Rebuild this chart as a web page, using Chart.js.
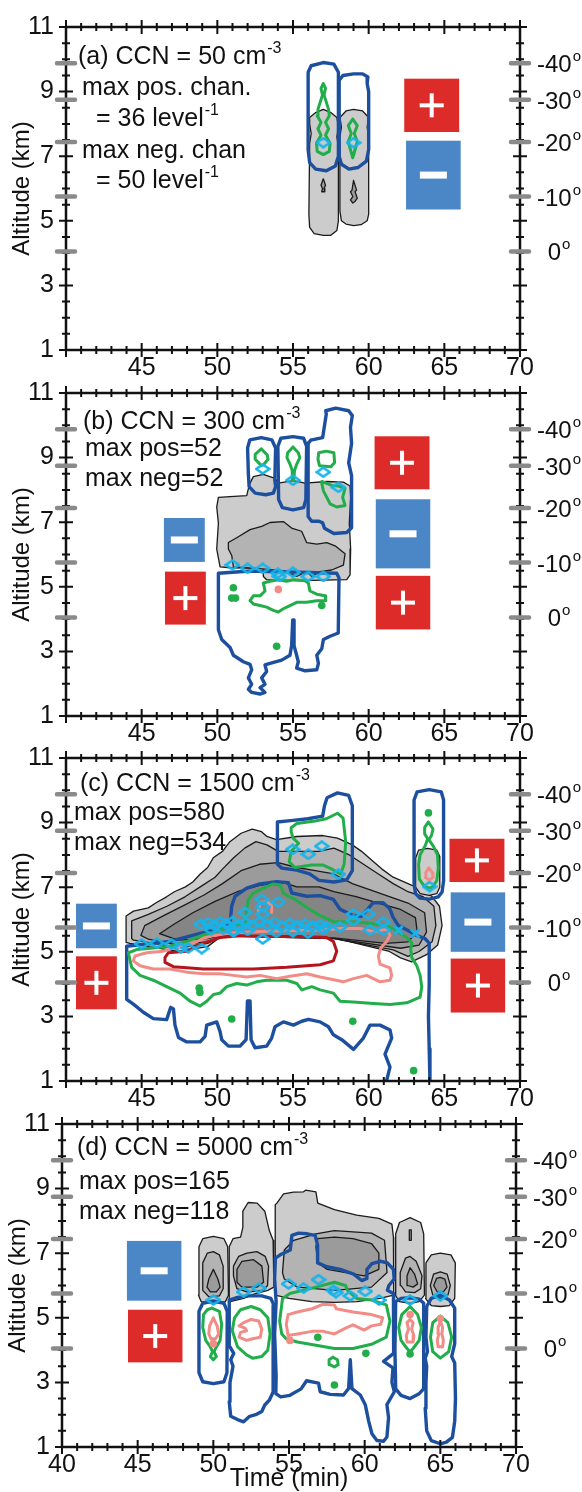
<!DOCTYPE html>
<html>
<head>
<meta charset="utf-8">
<title>Channel counts vs CCN</title>
<script src="https://cdn.jsdelivr.net/npm/chart.js@4.4.1/dist/chart.umd.min.js"></script>
<style>
  html, body { margin: 0; padding: 0; background: #fff; }
  body { position: relative; width: 582px; height: 1492px; overflow: hidden; }
  .panel { position: absolute; }
</style>
</head>
<body>
<div class="panel" style="top:0;left:0"><canvas id="pa" width="582" height="392"></canvas></div>
<div class="panel" style="top:366px;left:0"><canvas id="pb" width="582" height="392"></canvas></div>
<div class="panel" style="top:731px;left:0"><canvas id="pc" width="582" height="392"></canvas></div>
<div class="panel" style="top:1097px;left:-4px"><canvas id="pd" width="582" height="395"></canvas></div>
<script>
const FONT = "'Liberation Sans', Arial, sans-serif";
const BLUE = '#1d4f9f', GREEN = '#21ae4a', PINK = '#f28c86', DARKRED = '#b5141d', CYAN = '#17b3ea';
const G1 = '#cccccc', G2 = '#b3b3b3', G3 = '#9b9b9b', G4 = '#858585';
const BOX_RED = '#dc2b28', BOX_BLUE = '#4b87c7';

// axes
const xTickValues = [40, 45, 50, 55, 60, 65, 70];
const yTickValues = [1, 3, 5, 7, 9, 11];
const tempAlt = [9.88, 8.75, 7.44, 5.75, 4.05];
const tempLabels = ['-40', '-30', '-20', '-10', '0'];

// ---------- (a) CCN = 50 ----------  points are [time (min), altitude (km)]
const aGrayA = [[56.1,8.2],[56.5,8.35],[57.0,8.45],[57.5,8.35],[57.9,8.2],[58.0,7.9],[57.9,7.6],[58.0,7.3],[58.0,5.0],[57.9,4.7],[57.5,4.55],[57.0,4.55],[56.4,4.6],[56.1,4.8],[56.05,5.2],[56.1,7.4],[56.2,7.7],[56.1,8.0]];
const aGrayB = [[58.1,8.2],[58.5,8.4],[59.0,8.45],[59.6,8.4],[60.0,8.2],[59.9,7.9],[60.0,7.6],[60.0,5.2],[59.9,5.0],[59.5,4.88],[59.0,4.85],[58.5,4.9],[58.2,5.0],[58.1,5.3],[58.1,7.6],[58.2,7.9]];
const aDarkA = [[57.0,6.3],[57.15,6.1],[57.05,6.0],[57.1,5.9],[56.9,5.9],[56.95,6.0],[56.85,6.1]];
const aDarkB = [[59.0,6.25],[59.2,5.95],[59.1,5.9],[59.25,5.7],[59.1,5.6],[58.95,5.55],[58.8,5.65],[58.95,5.75],[58.8,5.9],[58.9,5.95]];
const aBlueA = [[56.0,9.6],[56.2,9.8],[57.0,9.9],[57.7,9.85],[58.0,9.6],[58.0,7.0],[57.8,6.7],[57.2,6.55],[56.5,6.6],[56.1,6.8],[56.0,7.2]];
const aBlueB = [[58.05,9.35],[58.3,9.5],[59.0,9.55],[59.6,9.55],[59.95,9.45],[59.9,9.25],[60.0,9.0],[60.0,7.2],[59.85,6.85],[59.3,6.65],[58.7,6.6],[58.2,6.75],[58.05,7.0]];
const aGreenA = [[57.0,9.25],[57.15,9.1],[57.05,8.9],[57.15,8.75],[57.35,8.45],[57.4,8.25],[57.15,8.05],[57.35,7.85],[57.15,7.65],[57.45,7.4],[57.4,7.15],[57.0,7.05],[56.6,7.15],[56.55,7.4],[56.85,7.65],[56.65,7.85],[56.85,8.05],[56.6,8.25],[56.65,8.45],[56.85,8.75],[56.95,8.9],[56.85,9.1]];
const aGreenB = [[58.95,8.15],[59.25,7.95],[59.05,7.7],[59.25,7.45],[59.1,7.2],[58.95,6.95],[58.8,7.2],[58.65,7.45],[58.85,7.7],[58.65,7.95]];
const aDiamonds = [[57.0,7.42],[59.0,7.42]];
const aBoxes = [[62.35,65.98,7.75,9.4,'+'],[62.47,66.08,5.35,7.48,'-']];
const aText = [['(a) CCN = 50 cm','-3',12,37],['max pos. chan.','',16,68],['= 36 level','-1',30,99],['max neg. chan','',16,131],['= 50 level','-1',30,161]];

// ---------- (b) CCN = 300 ----------
const bGray = [[50.07,7.77],[50.84,7.79],[51.94,7.82],[52.12,8.17],[52.38,8.41],[53.04,8.48],[53.81,8.36],[54.03,8.21],[55.02,8.29],[55.79,8.21],[57.23,8.26],[58.33,8.24],[58.77,8.12],[58.81,7.77],[58.72,6.97],[58.81,6.17],[58.77,5.37],[58.55,5.22],[55.46,5.19],[53.26,5.22],[53.04,5.32],[53.04,5.57],[50.84,5.59],[50.18,5.62],[49.96,6.17],[50.07,6.97],[49.96,7.47]];
const bDark = [[50.73,6.37],[51.28,6.52],[52.16,6.77],[52.93,6.87],[53.48,6.99],[54.36,7.02],[54.91,6.82],[55.57,6.72],[55.9,6.37],[56.57,6.32],[57.23,6.37],[57.78,6.27],[58.44,6.02],[58.33,5.67],[57.56,5.52],[56.79,5.47],[56.24,5.32],[55.9,5.47],[55.24,5.32],[54.36,5.49],[52.6,5.57],[51.06,5.62],[50.95,5.97],[50.73,6.17]];
const bBlue1 = [[52.0,9.3],[52.15,9.55],[52.9,9.62],[53.6,9.55],[53.85,9.3],[53.8,8.3],[53.85,8.1],[53.7,7.9],[53.2,7.85],[52.5,7.9],[52.1,8.1],[52.05,8.5]];
const bBlue2 = [[54.0,9.35],[54.2,9.6],[55.0,9.65],[55.7,9.6],[55.9,9.35],[55.85,7.7],[55.7,7.45],[55.0,7.38],[54.3,7.45],[54.05,7.7]];
const bBlue3 = [[56.18,9.54],[56.96,9.62],[57.2,10.35],[57.16,10.45],[57.82,10.53],[58.68,10.45],[58.92,10.3],[58.8,9.94],[58.87,9.44],[58.68,8.84],[58.87,8.44],[58.87,6.83],[58.55,6.68],[57.7,6.65],[57.08,6.81],[56.96,6.98],[56.72,7.03],[56.23,7.03],[56.0,7.18],[56.0,9.44]];
const bBlue4 = [[50.07,5.42],[52.16,5.49],[57.89,5.42],[58.04,5.27],[57.99,3.57],[57.45,3.47],[57.01,3.37],[56.9,3.08],[56.57,2.88],[56.68,2.63],[56.57,2.43],[55.8,2.4],[55.24,2.48],[55.35,2.68],[55.24,2.88],[55.07,3.18],[55.07,3.97],[54.98,3.97],[54.91,3.18],[54.8,2.88],[54.25,2.73],[53.48,2.63],[53.15,2.58],[53.26,2.38],[52.93,2.18],[53.15,1.98],[52.82,1.88],[53.15,1.73],[52.82,1.68],[52.27,1.73],[52.05,1.83],[52.27,1.98],[52.05,2.18],[52.27,2.43],[52.16,2.6],[51.72,2.68],[51.06,2.88],[50.84,3.12],[50.29,3.37],[50.07,3.67]];
const bGreen1 = [[52.9,9.27],[53.3,9.08],[53.35,8.95],[53.05,8.78],[52.9,8.76],[52.5,8.95],[52.5,9.1]];
const bGreen2 = [[55.0,9.33],[55.35,9.15],[55.45,9.0],[55.25,8.8],[55.1,8.6],[55.05,8.3],[54.95,8.3],[54.95,8.6],[54.8,8.8],[54.6,9.0],[54.65,9.15]];
const bGreen3 = [[56.7,9.15],[57.2,9.2],[57.7,9.15],[57.75,8.85],[57.5,8.72],[56.75,8.75],[56.65,8.95]];
const bGreen4 = [[56.9,8.26],[57.56,8.14],[57.99,8.12],[58.44,8.05],[58.28,7.77],[58.44,7.52],[57.89,7.47],[57.45,7.57],[57.23,7.77],[57.01,7.97],[56.9,8.21]];
const bGreen5 = [[53.04,5.12],[53.48,5.17],[54.03,5.22],[54.58,5.17],[55.02,5.22],[55.79,5.19],[56.01,5.12],[56.12,4.87],[56.57,4.77],[57.12,4.72],[57.16,4.57],[56.57,4.57],[55.9,4.52],[55.24,4.52],[54.8,4.42],[54.36,4.32],[54.03,4.22],[53.7,4.27],[53.26,4.37],[52.82,4.42],[52.38,4.47],[52.16,4.57],[52.38,4.72],[52.82,4.72],[53.15,4.87]];
const bGreenDots = [[51.06,4.97],[50.95,4.65],[51.2,4.65],[56.9,4.42],[53.92,3.16]];
const bPinkDots = [[54.03,4.92]];
const bDiamonds = [[51.0,5.68],[52.0,5.57],[53.0,5.57],[54.0,5.42],[54.1,5.32],[55.0,5.45],[56.0,5.32],[57.0,5.32],[53.0,8.65],[55.0,8.3],[57.0,8.55],[58.0,8.08]];
const bBoxes = [[46.47,49.17,5.77,7.13,'-'],[46.54,49.24,3.83,5.47,'+'],[60.39,64.02,8.02,9.66,'+'],[60.47,64.07,5.57,7.71,'-'],[60.47,64.07,3.68,5.34,'+']];
const bText = [['(b) CCN = 300 cm','-3',17,36],['max pos=52','',19,63],['max neg=52','',19,93]];

// ---------- (c) CCN = 1500 ----------
const cGray1 = [[43.97,5.29],[43.97,6.11],[44.46,6.26],[45.44,6.36],[45.93,6.51],[46.67,6.71],[47.16,6.86],[47.89,7.01],[48.38,7.16],[48.87,7.41],[49.36,7.61],[49.73,7.91],[50.34,8.11],[50.83,8.41],[51.57,8.67],[52.3,8.8],[52.92,8.72],[53.28,8.57],[53.9,8.47],[55.25,8.57],[56.96,8.6],[57.94,8.52],[58.92,8.31],[59.53,8.11],[60.15,7.86],[60.88,7.56],[61.62,7.31],[62.6,7.11],[63.33,6.96],[64.19,6.71],[64.68,6.41],[64.85,5.81],[64.56,5.21],[63.82,4.91],[62.84,4.69],[62.11,4.81],[61.37,5.01],[57.7,5.43],[50.34,5.51],[49.36,5.16],[47.4,5.01],[45.44,5.16],[44.22,5.26]];
const cGray2 = [[44.34,5.41],[44.34,5.96],[45.44,6.16],[46.67,6.41],[47.89,6.71],[48.87,7.01],[49.85,7.31],[50.34,7.56],[51.08,7.91],[51.81,8.21],[52.55,8.41],[53.28,8.31],[54.02,8.11],[55.25,8.11],[56.72,8.11],[57.7,8.21],[58.68,8.01],[59.66,7.71],[60.64,7.41],[61.62,7.11],[62.6,6.86],[63.58,6.71],[64.31,6.41],[64.44,5.81],[64.19,5.31],[63.33,5.01],[62.6,4.86],[61.62,5.06],[57.7,5.41],[50.34,5.49],[49.36,5.26],[47.4,5.13],[45.44,5.29],[44.46,5.36]];
const cGray3 = [[44.95,5.51],[45.2,5.81],[46.42,6.11],[47.89,6.46],[49.12,6.76],[50.34,7.11],[51.57,7.51],[52.79,7.71],[54.02,7.76],[55.25,7.61],[56.47,7.51],[57.7,7.41],[58.92,7.11],[60.15,6.91],[61.37,6.71],[62.6,6.51],[63.7,6.21],[63.82,5.61],[63.33,5.21],[62.11,5.11],[57.7,5.41],[50.34,5.49],[49.36,5.31],[47.4,5.21],[45.44,5.39]];
const cGray4 = [[46.18,5.56],[47.16,5.86],[48.38,6.21],[49.85,6.56],[51.32,6.86],[52.79,7.06],[54.26,7.16],[55.25,7.01],[56.72,7.01],[57.7,6.86],[59.17,6.71],[60.64,6.51],[62.11,6.31],[63.09,6.06],[63.21,5.61],[62.6,5.31],[61.13,5.26],[57.7,5.43],[50.34,5.51],[49.36,5.41],[47.4,5.36]];
const cGrayCol = [[63.1,7.9],[63.3,8.15],[63.9,8.2],[64.5,8.15],[64.7,7.95],[64.7,7.0],[64.5,6.8],[64.0,6.75],[63.4,6.8],[63.1,7.0]];
const cBlueBox = [[53.97,9.02],[55.0,9.07],[55.98,9.12],[56.96,9.2],[57.08,9.52],[57.25,9.77],[57.94,9.92],[58.68,9.84],[58.92,9.52],[58.92,7.51],[58.55,7.23],[57.7,7.16],[56.72,7.21],[56.1,7.41],[55.25,7.53],[54.26,7.59],[53.97,7.71]];
const cBlueCol = [[63.0,9.7],[63.2,9.95],[64.0,10.02],[64.8,9.95],[64.95,9.7],[64.95,7.2],[64.85,6.85],[64.6,6.7],[64.0,6.63],[63.4,6.66],[63.1,6.8],[63.0,7.1]];
const cBlueMain = [[44.01,5.17],[44.89,5.22],[46.87,5.32],[48.86,5.57],[50.18,5.72],[50.84,5.87],[50.95,6.42],[51.17,6.72],[51.94,6.97],[52.82,7.1],[53.92,7.17],[54.7,7.14],[54.92,6.82],[55.91,6.72],[56.79,6.74],[57.67,6.62],[58.11,6.32],[58.99,6.12],[59.5,6.1],[59.9,6.3],[60.3,6.52],[60.95,6.52],[61.4,6.33],[61.6,6.08],[61.95,5.82],[62.5,5.68],[63.2,5.5],[63.7,5.42],[64.0,5.27],[64.0,4.0],[63.95,3.0],[64.0,2.0],[64.05,0.95],[61.15,0.95],[61.41,1.43],[61.08,1.83],[61.52,2.33],[61.41,2.58],[60.75,2.73],[60.09,2.73],[59.65,2.33],[59.0,1.98],[58.22,2.28],[57.67,2.43],[57.34,2.68],[56.79,2.83],[56.02,2.91],[55.58,2.85],[55.03,2.73],[54.37,2.83],[53.81,2.68],[53.59,2.33],[53.26,2.08],[52.49,2.03],[52.23,2.28],[52.16,3.48],[51.99,3.48],[51.9,2.28],[51.5,2.08],[50.73,2.08],[50.29,2.28],[50.18,2.53],[49.96,2.83],[49.3,2.73],[49.19,2.38],[48.86,2.21],[47.98,2.21],[47.43,2.35],[47.2,2.73],[47.1,3.23],[46.92,3.28],[46.65,2.9],[45.77,2.93],[45.11,3.13],[44.45,3.38],[44.01,3.53]];
const cGreenBox = [[54.88,8.84],[55.25,8.97],[56.47,9.05],[57.2,9.12],[57.94,9.29],[58.31,9.14],[58.48,8.41],[58.38,7.71],[58.14,7.41],[57.57,7.56],[56.96,7.69],[56.23,7.69],[55.12,7.61],[54.75,7.79],[54.88,8.11],[55.37,8.36],[55.0,8.52],[54.88,8.72]];
const cGreenCol = [[63.95,9.02],[64.25,8.8],[64.15,8.6],[63.98,8.47],[64.3,8.25],[64.55,8.0],[64.6,7.6],[64.5,7.2],[64.2,7.0],[63.95,6.97],[63.65,7.05],[63.35,7.25],[63.3,7.7],[63.4,8.0],[63.75,8.3],[63.9,8.5],[63.7,8.65],[63.7,8.85]];
const cGreenMain = [[44.12,4.97],[44.67,5.07],[45.77,5.12],[46.87,5.17],[47.98,5.32],[49.08,5.52],[50.18,5.67],[50.95,5.82],[51.83,5.87],[51.94,6.32],[52.05,6.62],[52.38,6.82],[53.04,6.97],[53.7,7.1],[54.15,7.07],[54.37,6.82],[54.7,6.72],[55.14,6.62],[55.91,6.37],[56.79,6.12],[57.67,5.94],[58.55,5.92],[59.21,5.92],[60.31,5.87],[60.97,5.82],[61.63,5.72],[62.08,5.57],[62.52,5.44],[62.85,5.27],[62.78,5.07],[62.85,4.82],[63.18,4.57],[63.4,4.27],[63.51,3.92],[63.4,3.6],[62.52,3.42],[61.41,3.37],[60.31,3.4],[59.21,3.44],[58.11,3.47],[57.67,3.72],[56.79,3.82],[56.24,3.92],[55.58,3.82],[55.25,4.02],[54.59,4.12],[53.92,4.12],[53.26,4.12],[52.6,4.07],[51.94,3.97],[51.28,4.02],[50.62,3.92],[50.18,3.72],[49.74,3.68],[49.3,3.47],[48.86,3.32],[48.2,3.47],[47.54,3.72],[46.65,3.92],[45.77,4.12],[44.89,4.27],[44.34,4.52]];
const cGreenDots = [[48.8,3.88],[48.85,3.74],[50.95,2.92],[58.95,2.85],[62.97,1.32],[63.95,9.3]];
const cPink = [[44.56,4.87],[45.33,4.97],[46.43,5.02],[47.54,5.17],[48.42,5.27],[49.08,5.42],[49.74,5.5],[51.0,5.58],[52.5,5.62],[54.0,5.65],[55.5,5.66],[57.0,5.68],[58.2,5.72],[59.43,5.72],[60.31,5.62],[61.19,5.7],[61.41,5.52],[61.19,5.32],[60.8,5.12],[60.64,4.87],[60.75,4.62],[61.41,4.5],[61.52,4.27],[61.41,4.12],[60.75,4.07],[59.87,4.27],[58.99,4.17],[58.33,4.07],[56.79,4.22],[55.91,4.32],[54.8,4.24],[53.92,4.17],[52.82,4.27],[51.94,4.22],[51.06,4.27],[50.18,4.32],[49.08,4.32],[47.98,4.37],[46.87,4.47],[45.77,4.47],[44.89,4.57],[44.45,4.72]];
const cPinkLoop = [[52.7,6.22],[52.82,6.52],[53.26,6.57],[53.59,6.42],[53.59,6.22]];
const cPinkCol = [[63.98,7.6],[64.2,7.45],[64.25,7.3],[64.0,7.22],[63.75,7.3],[63.78,7.45]];
const cRed = [[46.54,4.82],[46.76,4.97],[47.98,5.02],[49.08,5.27],[50.18,5.44],[51.5,5.5],[53.48,5.47],[55.69,5.47],[57.23,5.44],[57.67,5.32],[57.89,5.02],[57.67,4.72],[56.79,4.6],[54.59,4.52],[52.38,4.47],[50.18,4.47],[49.08,4.47],[47.1,4.54],[46.54,4.67]];
const cDiamonds = [[54.98,8.17],[56.02,8.02],[56.9,8.27],[58.0,7.4],[64.02,7.02],
  [45.0,5.24],[46.0,5.27],[46.98,5.24],[47.6,5.12],[48.09,5.12],[48.97,5.1],
  [48.9,5.85],[49.4,5.9],[49.8,5.82],[50.2,5.92],[50.6,5.86],[51.0,5.94],[51.4,5.84],[51.9,5.9],[52.3,5.82],[52.8,5.92],[53.3,5.84],[53.8,5.9],[54.3,5.8],[54.8,5.88],[55.3,5.82],[55.8,5.86],[56.3,5.8],[56.8,5.84],[57.2,5.78],
  [49.6,5.68],[50.4,5.7],[51.1,5.64],[52.0,5.66],[53.9,5.6],[55.0,5.62],[56.0,5.58],[57.0,5.7],[58.1,5.77],
  [51.83,6.22],[53.0,6.17],[52.95,6.62],[54.03,6.54],[53.0,6.4],[53.0,5.4],[51.06,5.62],
  [58.99,5.97],[58.99,6.17],[59.98,6.17],[60.97,5.92],[60.09,5.67],[60.97,5.67]];
const cCrosses = [[61.97,5.67],[63.07,5.57]];
const cBoxes = [[40.66,43.36,5.11,6.49,'-'],[40.66,43.36,3.22,4.86,'+'],[65.34,68.97,7.16,8.5,'+'],[65.42,69.02,5.0,6.84,'-'],[65.42,69.02,3.12,4.79,'+']];
const cText = [['(c) CCN = 1500 cm','-3',14,33],['max pos=580','',8,62],['max neg=534','',8,92]];

// ---------- (d) CCN = 5000 ----------
const dGrayA1 = [[49.05,7.2],[49.3,7.45],[50.0,7.52],[50.7,7.45],[50.95,7.2],[51.0,5.7],[50.8,5.5],[50.0,5.45],[49.2,5.5],[49.02,5.7]];
const dGrayA2 = [[49.3,6.7],[49.6,7.0],[50.0,7.05],[50.4,6.95],[50.65,6.6],[50.65,5.9],[50.4,5.68],[49.7,5.65],[49.3,5.85]];
const dGrayA3 = [[50.0,6.5],[50.3,6.2],[50.45,5.95],[50.2,5.8],[49.8,5.8],[49.58,5.95],[49.7,6.2]];
const dGrayB1 = [[51.1,5.5],[51.05,7.2],[51.3,7.45],[51.8,7.5],[51.95,7.8],[51.95,8.3],[52.3,8.57],[52.9,8.55],[53.4,8.3],[53.55,8.0],[53.7,7.7],[53.95,7.4],[54.0,5.95],[53.6,5.85],[52.8,5.75],[52.0,5.6]];
const dGrayB2 = [[51.33,6.6],[51.67,6.9],[52.22,7.0],[52.88,7.05],[53.43,6.9],[53.65,6.6],[53.58,6.0],[53.32,5.85],[52.22,5.8],[51.56,5.9],[51.33,6.3]];
const dGrayB3 = [[51.56,6.5],[51.89,6.75],[52.66,6.8],[53.21,6.6],[53.32,6.1],[52.88,5.95],[51.89,5.95],[51.56,6.1]];
const dGrayC1 = [[54.1,5.7],[54.09,8.5],[54.2,8.55],[54.64,8.84],[55.3,8.89],[55.96,8.9],[56.1,8.95],[56.78,8.9],[56.9,8.55],[58.0,8.35],[59.47,8.18],[60.94,8.08],[61.8,7.9],[61.9,7.5],[61.92,5.7],[61.0,5.6],[59.5,5.5],[58.0,5.48],[56.5,5.5],[55.0,5.6]];
const dGrayC2 = [[54.57,6.4],[54.69,7.1],[55.31,7.4],[56.78,7.6],[58.0,7.7],[60.45,7.62],[61.31,7.4],[61.48,6.4],[60.45,5.95],[58.0,5.85],[55.55,5.95],[54.69,6.2]];
const dGrayC3 = [[56.78,7.2],[56.9,7.45],[58.0,7.5],[59.23,7.45],[60.45,7.3],[60.94,7.0],[60.94,6.5],[59.96,6.3],[58.75,6.4],[57.53,6.5],[56.9,6.7]];
const dGrayD1 = [[62.05,7.6],[62.3,7.95],[63.0,8.1],[63.7,7.95],[63.9,7.6],[63.95,5.7],[63.6,5.5],[63.0,5.45],[62.3,5.5],[62.02,5.7]];
const dGrayD2 = [[62.35,6.4],[62.7,6.85],[63.0,6.9],[63.4,6.75],[63.79,6.3],[63.7,5.9],[63.3,5.78],[62.7,5.8],[62.4,6.0]];
const dGrayD3 = [[62.8,6.3],[63.0,6.55],[63.3,6.35],[63.5,6.05],[63.2,5.95],[62.85,6.0]];
const dGrayDBar = [[62.95,7.72],[63.08,7.72],[63.08,7.4],[62.95,7.4]];
const dGrayE1 = [[64.05,6.7],[64.4,6.95],[65.0,7.0],[65.7,6.95],[65.99,6.7],[65.95,5.6],[65.6,5.38],[65.0,5.35],[64.4,5.38],[64.02,5.6]];
const dGrayE2 = [[64.34,6.0],[64.55,6.35],[65.0,6.42],[65.45,6.35],[65.66,6.0],[65.5,5.7],[65.0,5.6],[64.5,5.7]];
const dGrayE3 = [[64.56,6.0],[64.75,6.22],[65.0,6.25],[65.3,6.2],[65.44,5.95],[65.2,5.8],[64.8,5.8]];
const dBlueA = [[49.05,5.2],[49.3,5.45],[50.0,5.52],[50.7,5.45],[50.92,5.2],[50.9,3.3],[50.7,3.02],[50.0,2.96],[49.3,3.02],[49.05,3.3]];
const dBlueB = [[51.05,5.55],[51.5,5.62],[52.3,5.68],[53.2,5.68],[53.8,5.6],[54.0,5.4],[53.95,4.0],[53.95,2.7],[53.7,2.45],[53.4,2.3],[53.2,2.1],[52.8,2.0],[52.4,1.95],[52.0,1.78],[51.6,1.85],[51.15,1.95],[51.05,2.4],[51.1,3.0],[51.2,3.25],[51.3,3.5],[51.15,3.7],[51.35,3.9],[51.1,4.1],[51.05,4.5]];
const dBlueC = [[54.1,6.85],[54.42,6.95],[55.08,7.1],[55.19,7.55],[55.63,7.62],[56.2,7.6],[56.73,7.55],[56.89,7.25],[56.89,6.7],[57.5,6.58],[58.39,6.5],[59.27,6.35],[59.82,6.15],[60.15,6.22],[60.15,6.5],[60.48,6.68],[61.03,6.75],[61.5,6.7],[61.9,6.5],[61.95,6.2],[61.6,6.0],[61.5,5.85],[61.9,5.75],[61.92,4.5],[61.91,3.9],[61.25,3.65],[61.87,3.45],[61.8,3.0],[61.96,2.71],[61.47,2.31],[61.58,1.91],[61.47,1.31],[61.25,1.18],[60.81,1.2],[60.48,1.41],[60.26,1.81],[60.04,2.31],[59.71,2.61],[59.16,2.81],[59.05,3.7],[58.94,2.81],[58.6,2.61],[57.72,2.63],[57.06,2.71],[56.95,2.98],[56.16,3.05],[55.8,2.8],[55.06,2.6],[54.45,2.55],[54.13,2.65],[54.15,3.2],[54.05,4.5],[54.15,5.5],[54.05,6.2]];
const dBlueD = [[62.05,5.5],[62.4,5.6],[63.0,5.62],[63.6,5.58],[63.9,5.45],[63.92,4.5],[63.9,3.5],[63.88,2.8],[63.6,2.65],[63.0,2.5],[62.4,2.6],[62.05,2.8],[62.0,4.0]];
const dBlueE = [[64.1,5.35],[64.4,5.6],[65.0,5.7],[65.6,5.55],[65.95,5.3],[65.95,4.2],[65.75,3.8],[65.95,3.6],[66.0,2.5],[65.95,1.8],[65.8,1.3],[65.4,1.15],[65.0,1.1],[64.4,1.2],[64.1,1.5],[64.0,2.2],[64.05,3.0],[64.1,3.5],[64.0,3.75],[64.15,3.95],[64.05,4.4]];
const dGreenA = [[49.9,5.3],[50.4,5.2],[50.55,4.8],[50.45,4.3],[50.2,4.1],[50.05,3.95],[50.2,3.8],[50.0,3.7],[49.8,3.8],[49.95,3.95],[49.8,4.1],[49.5,4.3],[49.3,4.7],[49.35,5.1],[49.6,5.25]];
const dGreenB = [[51.8,5.25],[52.5,5.35],[53.1,5.25],[53.6,5.0],[53.75,4.5],[53.6,4.0],[53.2,3.8],[52.6,3.75],[52.2,3.85],[51.6,4.1],[51.25,4.6],[51.4,5.0]];
const dGreenC = [[54.57,5.6],[55.06,5.75],[56.78,5.95],[58.0,6.1],[58.74,6.0],[58.86,5.85],[59.47,5.6],[60.45,5.55],[61.43,5.4],[61.67,4.9],[61.43,4.4],[60.45,4.18],[59.23,4.05],[58.0,4.05],[56.78,4.15],[55.55,4.25],[54.82,4.35],[54.52,4.5],[54.38,4.9],[54.52,5.4]];
const dGreenD = [[63.0,5.35],[63.5,5.1],[63.75,4.7],[63.6,4.3],[63.2,4.05],[63.0,3.95],[62.8,4.05],[62.4,4.3],[62.25,4.7],[62.45,5.1]];
const dGreenE = [[65.0,5.05],[65.5,4.85],[65.75,4.4],[65.55,3.95],[65.0,3.75],[64.5,3.95],[64.35,4.4],[64.5,4.85]];
const dGreenLoop = [[57.9,3.78],[58.2,3.7],[58.25,3.55],[58.0,3.48],[57.7,3.55],[57.65,3.7]];
const dGreenDots = [[56.9,4.4],[60.08,3.9],[58.0,2.92],[63.0,3.88]];
const dPinkA = [[50.0,5.0],[50.25,4.75],[50.35,4.5],[50.15,4.35],[49.85,4.35],[49.7,4.5],[49.75,4.75]];
const dPinkB = [[51.7,4.75],[52.0,4.85],[52.5,4.95],[53.0,4.9],[53.2,4.65],[53.1,4.4],[52.6,4.35],[52.2,4.3],[51.7,4.4],[51.8,4.55],[52.2,4.6],[52.1,4.68]];
const dPinkC = [[54.94,5.1],[55.55,5.18],[56.53,5.28],[57.27,5.42],[58.0,5.4],[58.12,5.28],[59.23,5.18],[60.45,5.1],[61.19,5.0],[61.06,4.8],[60.45,4.75],[59.96,4.62],[59.23,4.78],[58.74,4.68],[58.0,4.5],[57.27,4.58],[56.53,4.58],[55.55,4.5],[54.94,4.45],[54.82,4.8]];
const dPinkD = [[63.0,4.95],[63.2,4.85],[63.1,4.65],[63.25,4.45],[63.2,4.25],[62.8,4.25],[62.75,4.45],[62.9,4.65],[62.8,4.85]];
const dPinkE = [[65.0,4.9],[65.15,4.7],[65.1,4.5],[65.2,4.3],[65.15,4.1],[64.85,4.1],[64.8,4.3],[64.9,4.5],[64.85,4.7]];
const dPinkDots = [[50.0,4.2],[55.06,4.3],[63.0,5.1],[65.0,4.98]];
const dDiamonds = [[50.0,5.55],[52.0,5.8],[53.0,5.92],[54.97,6.05],[55.96,5.92],[56.95,6.18],[57.94,5.85],[58.1,5.78],[59.05,5.68],[60.04,5.82],[60.95,5.55],[63.0,5.55],[65.0,5.68]];
const dBoxes = [[44.29,47.89,5.53,7.38,'-'],[44.36,47.96,3.62,5.25,'+']];
const dText = [['(d) CCN = 5000 cm','-3',15,31],['max pos=165','',17,65],['max neg=118','',17,95]];

// ---------- helpers ----------
function poly(pts, color, width, fillColor, order, open) {
  const data = pts.map(p => ({x: p[0], y: p[1]}));
  if (!open) data.push({x: pts[0][0], y: pts[0][1]});
  return {
    data, showLine: true, tension: 0,
    borderColor: color, borderWidth: width, borderJoinStyle: 'round', borderCapStyle: 'round',
    backgroundColor: fillColor || 'transparent',
    fill: fillColor ? 'shape' : false,
    pointRadius: 0, order
  };
}

function dots(pts, color, r, order) {
  return {data: pts.map(p => ({x: p[0], y: p[1]})), showLine: false,
    pointRadius: r, pointBackgroundColor: color, pointBorderWidth: 0, order};
}

function diamondImage() {
  const c = document.createElement('canvas');
  c.width = 16; c.height = 12;
  const g = c.getContext('2d');
  g.strokeStyle = CYAN; g.lineWidth = 2.6;
  g.beginPath(); g.moveTo(8, 1.5); g.lineTo(14.5, 6); g.lineTo(8, 10.5); g.lineTo(1.5, 6); g.closePath();
  g.stroke();
  return c;
}
const DIAMOND = diamondImage();

function marks(pts, order) {
  return {data: pts.map(p => ({x: p[0], y: p[1]})), showLine: false,
    pointStyle: DIAMOND, pointRadius: 6, order};
}

function crosses(pts, order) {
  return {data: pts.map(p => ({x: p[0], y: p[1]})), showLine: false,
    pointStyle: 'crossRot', pointRadius: 6, pointBorderColor: CYAN, pointBorderWidth: 2.8, order};
}

function drawLabel(ctx, x, y, main, sup) {
  ctx.font = '25px ' + FONT;
  ctx.fillText(main, x, y);
  if (sup) {
    const w = ctx.measureText(main).width;
    ctx.font = '16px ' + FONT;
    ctx.fillText(sup, x + w + 1, y - 11);
  }
}

function makeDecor(p) {
  return {
    id: 'decor',
    afterDraw(chart) {
      const {ctx, chartArea: ca} = chart;
      const xs = chart.scales.x, ys = chart.scales.y;
      ctx.save();
      // charge sign boxes
      p.boxes.forEach(([t0, t1, a0, a1, s]) => {
        const x0 = xs.getPixelForValue(t0), x1 = xs.getPixelForValue(t1);
        const y0 = ys.getPixelForValue(a1), y1 = ys.getPixelForValue(a0);
        ctx.fillStyle = s === '+' ? BOX_RED : BOX_BLUE;
        ctx.fillRect(x0, y0, x1 - x0, y1 - y0);
        const cx = (x0 + x1) / 2, cy = (y0 + y1) / 2;
        ctx.fillStyle = '#fff';
        if (s === '+') {
          ctx.fillRect(cx - 12, cy - 2, 24, 4);
          ctx.fillRect(cx - 2, cy - 12, 4, 24);
        } else {
          ctx.fillRect(cx - 13.5, cy - 3.5, 27, 7);
        }
      });
      // frame
      ctx.strokeStyle = '#111';
      ctx.lineWidth = 2.5;
      ctx.strokeRect(ca.left, ca.top, ca.width, ca.height);
      // crossing tick marks on all four sides
      ctx.lineWidth = 2;
      ctx.beginPath();
      for (let t = 40; t <= 70; t++) {
        const px = xs.getPixelForValue(t);
        const len = t % 5 === 0 ? 7 : 4;
        ctx.moveTo(px, ca.bottom - len); ctx.lineTo(px, ca.bottom + len);
        ctx.moveTo(px, ca.top - len); ctx.lineTo(px, ca.top + len);
      }
      for (let a = 1; a <= 11; a += 0.5) {
        const py = ys.getPixelForValue(a);
        const len = yTickValues.includes(a) ? 7 : 4;
        ctx.moveTo(ca.left - len, py); ctx.lineTo(ca.left + len, py);
        ctx.moveTo(ca.right - len, py); ctx.lineTo(ca.right + len, py);
      }
      ctx.stroke();
      // temperature levels: gray dashes + labels at right
      ctx.strokeStyle = '#8a8a8a';
      ctx.lineWidth = 4.5;
      ctx.lineCap = 'round';
      ctx.fillStyle = '#111';
      ctx.textBaseline = 'alphabetic';
      tempAlt.forEach((a, i) => {
        const py = ys.getPixelForValue(a);
        ctx.beginPath();
        ctx.moveTo(ca.left - 9, py); ctx.lineTo(ca.left + 9, py);
        ctx.moveTo(ca.right - 9, py); ctx.lineTo(ca.right + 9, py);
        ctx.stroke();
        ctx.font = '24px ' + FONT;
        const w1 = ctx.measureText(tempLabels[i]).width;
        ctx.font = '15px ' + FONT;
        const w2 = ctx.measureText('o').width;
        const x0 = ca.right + 39 - (w1 + w2 + 1) / 2;
        ctx.font = '24px ' + FONT;
        ctx.fillText(tempLabels[i], x0, py + 9);
        ctx.font = '15px ' + FONT;
        ctx.fillText('o', x0 + w1 + 1, py - 2);
      });
      // panel annotations
      p.text.forEach(([main, sup, dx, dy]) => drawLabel(ctx, ca.left + dx, ca.top + dy, main, sup));
      ctx.restore();
    }
  };
}

function buildPanel(p) {
  const datasets = [];
  p.grays.forEach(([pts, col], i) => datasets.push(poly(pts, '#1b1b1b', 1.3, col, 30 - i)));
  p.lines.forEach(([pts, col, open], i) => datasets.push(poly(pts, col, col === BLUE ? 3.4 : 3, null, 15 - i * 0.1, open)));
  if (p.greenDots) datasets.push(dots(p.greenDots, GREEN, 3.8, 4));
  if (p.pinkDots) datasets.push(dots(p.pinkDots, PINK, 3.8, 4));
  datasets.push(marks(p.diamonds, 2));
  if (p.crosses) datasets.push(crosses(p.crosses, 2));

  new Chart(document.getElementById(p.id), {
    type: 'scatter',
    data: {datasets},
    options: {
      responsive: false,
      animation: false,
      events: [],
      layout: {padding: {top: 16, right: 62, left: 0, bottom: 0}},
      plugins: {legend: {display: false}, tooltip: {enabled: false}},
      scales: {
        x: {
          type: 'linear', min: 40, max: 70,
          afterBuildTicks: s => { s.ticks = xTickValues.map(v => ({value: v})); },
          afterFit: s => { s.height = p.h - 350; },
          ticks: {padding: 3, color: '#111', font: {family: FONT, size: 25},
                  maxRotation: 0, autoSkip: false,
                  callback: v => (v === 40 && !p.showForty) ? '' : String(v)},
          grid: {display: false, drawTicks: false},
          border: {display: false},
          title: {display: !!p.xTitle, text: 'Time (min)', color: '#111',
                  font: {family: FONT, size: 25}, padding: {top: 0, bottom: -2}}
        },
        y: {
          type: 'linear', min: 1, max: 11,
          afterBuildTicks: s => { s.ticks = yTickValues.map(v => ({value: v})); },
          afterFit: s => { s.width = 66; },
          ticks: {padding: 12, color: '#111', font: {family: FONT, size: 25}, autoSkip: false},
          grid: {display: false, drawTicks: false},
          border: {display: false},
          title: {display: true, text: 'Altitude (km)', color: '#111',
                  font: {family: FONT, size: 24}, padding: {top: 8, bottom: 0}}
        }
      }
    },
    plugins: [makeDecor(p)]
  });
}

Chart.defaults.font.family = FONT;

const panels = [
  {id: 'pa', h: 392, showForty: false, xTitle: false,
   grays: [[aGrayA, G1], [aGrayB, G1], [aDarkA, G3], [aDarkB, G3]],
   lines: [[aBlueA, BLUE], [aBlueB, BLUE], [aGreenA, GREEN], [aGreenB, GREEN]],
   diamonds: aDiamonds, boxes: aBoxes, text: aText},
  {id: 'pb', h: 392, showForty: false, xTitle: false,
   grays: [[bGray, G1], [bDark, G2]],
   lines: [[bBlue1, BLUE], [bBlue2, BLUE], [bBlue3, BLUE], [bBlue4, BLUE],
           [bGreen1, GREEN], [bGreen2, GREEN], [bGreen3, GREEN], [bGreen4, GREEN], [bGreen5, GREEN]],
   greenDots: bGreenDots, pinkDots: bPinkDots,
   diamonds: bDiamonds, boxes: bBoxes, text: bText},
  {id: 'pc', h: 392, showForty: false, xTitle: false,
   grays: [[cGray1, G1], [cGrayCol, G1], [cGray2, G2], [cGray3, G3], [cGray4, G4]],
   lines: [[cBlueMain, BLUE], [cBlueBox, BLUE], [cBlueCol, BLUE],
           [cGreenMain, GREEN], [cGreenBox, GREEN], [cGreenCol, GREEN],
           [cPink, PINK], [cPinkLoop, PINK, true], [cPinkCol, PINK], [cRed, DARKRED]],
   greenDots: cGreenDots,
   diamonds: cDiamonds, crosses: cCrosses, boxes: cBoxes, text: cText},
  {id: 'pd', h: 395, showForty: true, xTitle: true,
   grays: [[dGrayA1, G1], [dGrayB1, G1], [dGrayC1, G1], [dGrayD1, G1], [dGrayE1, G1],
           [dGrayA2, G2], [dGrayB2, G2], [dGrayC2, G2], [dGrayD2, G2], [dGrayE2, G2],
           [dGrayA3, G3], [dGrayB3, G3], [dGrayC3, G3], [dGrayD3, G3], [dGrayE3, G3], [dGrayDBar, G3]],
   lines: [[dBlueA, BLUE], [dBlueB, BLUE], [dBlueC, BLUE], [dBlueD, BLUE], [dBlueE, BLUE],
           [dGreenA, GREEN], [dGreenB, GREEN], [dGreenC, GREEN], [dGreenD, GREEN], [dGreenE, GREEN], [dGreenLoop, GREEN],
           [dPinkA, PINK], [dPinkB, PINK], [dPinkC, PINK], [dPinkD, PINK], [dPinkE, PINK]],
   greenDots: dGreenDots, pinkDots: dPinkDots,
   diamonds: dDiamonds, boxes: dBoxes, text: dText}
];

panels.forEach(buildPanel);
</script>
</body>
</html>
